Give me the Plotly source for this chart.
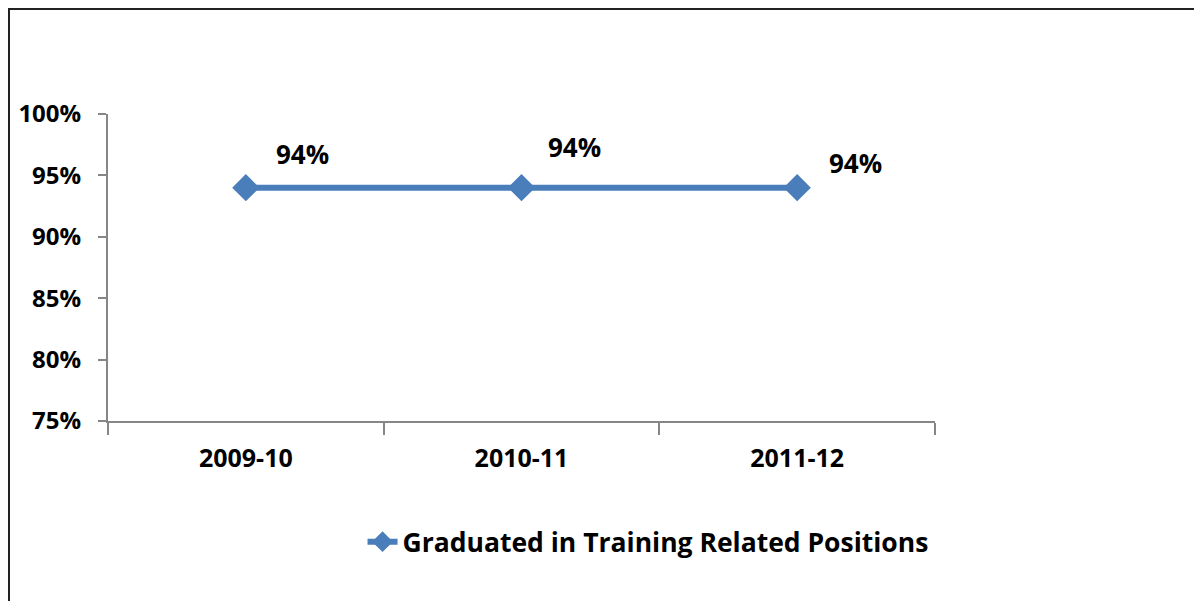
import plotly.graph_objects as go

## data
years = ['2009-10', '2010-11', '2011-12']
graduated = [0.94, 0.94, 0.94]
label_text = ['94%', '94%', '94%']
series_name = 'Graduated in Training Related Positions'

# label offsets (px) from each point, as placed in the original
label_dx = [57, 53, 58]
label_dy = [34, 41, 25]

blue = '#4a7ebb'
axis_grey = '#868686'
font_family = 'Open Sans, Noto Sans, sans-serif'

fig = go.Figure()

fig.add_trace(go.Scatter(
  x=years,
  y=graduated,
  name=series_name,
  mode='lines+markers',
  line={'color': blue, 'width': 6},
  marker={'symbol': 'diamond', 'size': 21, 'color': blue},
))

# data labels
for yr, v, t, dx, dy in zip(years, graduated, label_text, label_dx, label_dy):
  fig.add_annotation(
    x=yr, y=v, text='<b>%s</b>' % t, showarrow=False,
    xshift=dx, yshift=dy,
    font={'size': 26, 'color': 'black', 'family': font_family},
  )

# outer frame (top + left edges visible)
fig.add_shape(
  type='rect', xref='paper', yref='paper',
  x0=-0.1197, x1=1.34, y0=-0.62, y1=1.342,
  line={'color': '#222222', 'width': 2},
  layer='below',
)

# the page body adds an 8px margin, so the figure is 8px smaller
fig.update_layout(
  width=1194, height=593,
  margin={'l': 100, 'r': 267, 't': 106, 'b': 180, 'autoexpand': False},
  paper_bgcolor='white',
  plot_bgcolor='white',
  font={'family': font_family, 'color': 'black'},
  showlegend=True,
  legend={
    'orientation': 'h',
    'x': 0.653, 'xanchor': 'center',
    'y': -0.394, 'yanchor': 'middle',
    'font': {'size': 26.5, 'family': font_family, 'weight': 'bold'},
  },
  xaxis={
    'type': 'category',
    'range': [-0.5, 2.5],
    'automargin': False,
    'showline': True, 'linecolor': axis_grey, 'linewidth': 2,
    'showgrid': False,
    'ticks': 'outside', 'ticklen': 12, 'tickcolor': axis_grey, 'tickwidth': 2,
    'tickson': 'boundaries',
    'ticklabelstandoff': 14,
    'tickfont': {'size': 25, 'weight': 'bold'},
  },
  yaxis={
    'range': [0.75, 1.0],
    'tickvals': [0.75, 0.80, 0.85, 0.90, 0.95, 1.0],
    'tickformat': '.0%',
    'automargin': False,
    'showline': True, 'linecolor': axis_grey, 'linewidth': 2,
    'showgrid': False, 'zeroline': False,
    'ticks': 'outside', 'ticklen': 8, 'tickcolor': axis_grey, 'tickwidth': 2,
    'ticklabelstandoff': 12,
    'tickfont': {'size': 24, 'weight': 'bold'},
  },
)

fig.write_html('out.html')
